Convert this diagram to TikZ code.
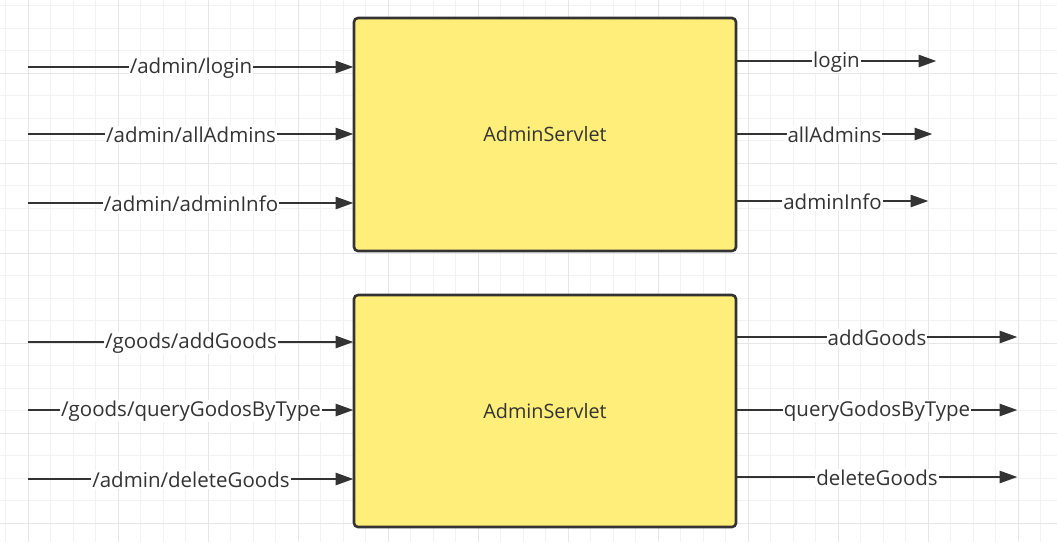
\documentclass[tikz,border=0pt]{standalone}
\usepackage{fontspec}
\setmainfont{Open Sans}
\usetikzlibrary{arrows.meta}
\definecolor{ink}{HTML}{333333}
\definecolor{boxfill}{HTML}{FFEF7A}
\definecolor{gridminor}{HTML}{F2F2F2}
\definecolor{gridmajor}{HTML}{E6E6E6}
\tikzset{
  servlet/.style={draw=ink, line width=2.6pt, fill=boxfill, rounded corners=4pt,
    minimum width=382pt, minimum height=232pt, outer sep=0pt,
    font=\fontsize{19.8}{22}\selectfont, text=ink},
  flow/.style={draw=ink, line width=2.8pt,
    -{Triangle[length=18pt,width=12pt]}, shorten >=0.5pt},
  lbl/.style={fill=white, inner xsep=1pt, inner ysep=1pt, text=ink, yshift=-1pt,
    font=\fontsize{20.5}{22}\selectfont}
}
\begin{document}
\begin{tikzpicture}[x=1pt,y=-1pt]
  % canvas and background grid
  \useasboundingbox (0,0) rectangle (1057,542);
  \fill[white] (0,0) rectangle (1057,542);
  \foreach \i in {0,...,47} {
    \draw[gridminor, line width=1pt] ({5.5+22.5*\i},0) -- ({5.5+22.5*\i},542);
  }
  \foreach \i in {0,...,24} {
    \draw[gridminor, line width=1pt] (0,{5.5+22.5*\i}) -- (1057,{5.5+22.5*\i});
  }
  \foreach \i in {0,...,11} {
    \draw[gridmajor, line width=1pt] ({28+90*\i},0) -- ({28+90*\i},542);
  }
  \foreach \i in {0,...,5} {
    \draw[gridmajor, line width=1pt] (0,{73+90*\i}) -- (1057,{73+90*\i});
  }

  % servlet boxes
  \node[servlet, minimum height=233pt] (adm) at (545,134.5) {AdminServlet};
  \node[servlet] (gds) at (545,411) {AdminServlet};

  % request entry points
  \coordinate (i1) at (28,67);
  \coordinate (i2) at (28,134);
  \coordinate (i3) at (28,203);
  \coordinate (i4) at (28,342);
  \coordinate (i5) at (28,410);
  \coordinate (i6) at (28,479);

  % forward targets
  \coordinate (o1) at (937,61);
  \coordinate (o2) at (933,134);
  \coordinate (o3) at (929,201);
  \coordinate (o4) at (1018,337);
  \coordinate (o5) at (1018,410);
  \coordinate (o6) at (1018,477);

  % incoming requests
  \draw[flow] (i1) -- (i1 -| adm.west) node[lbl, midway] {/admin/login};
  \draw[flow] (i2) -- (i2 -| adm.west) node[lbl, midway] {/admin/allAdmins};
  \draw[flow] (i3) -- (i3 -| adm.west) node[lbl, midway] {/admin/adminInfo};
  \draw[flow] (i4) -- (i4 -| gds.west) node[lbl, midway] {/goods/addGoods};
  \draw[flow] (i5) -- (i5 -| gds.west) node[lbl, midway] {/goods/queryGodosByType};
  \draw[flow] (i6) -- (i6 -| gds.west) node[lbl, midway] {/admin/deleteGoods};

  % dispatched methods
  \draw[flow] (o1 -| adm.east) -- (o1) node[lbl, midway] {login};
  \draw[flow] (o2 -| adm.east) -- (o2) node[lbl, midway] {allAdmins};
  \draw[flow] (o3 -| adm.east) -- (o3) node[lbl, midway] {adminInfo};
  \draw[flow] (o4 -| gds.east) -- (o4) node[lbl, midway] {addGoods};
  \draw[flow] (o5 -| gds.east) -- (o5) node[lbl, midway] {queryGodosByType};
  \draw[flow] (o6 -| gds.east) -- (o6) node[lbl, midway] {deleteGoods};
\end{tikzpicture}
\end{document}
